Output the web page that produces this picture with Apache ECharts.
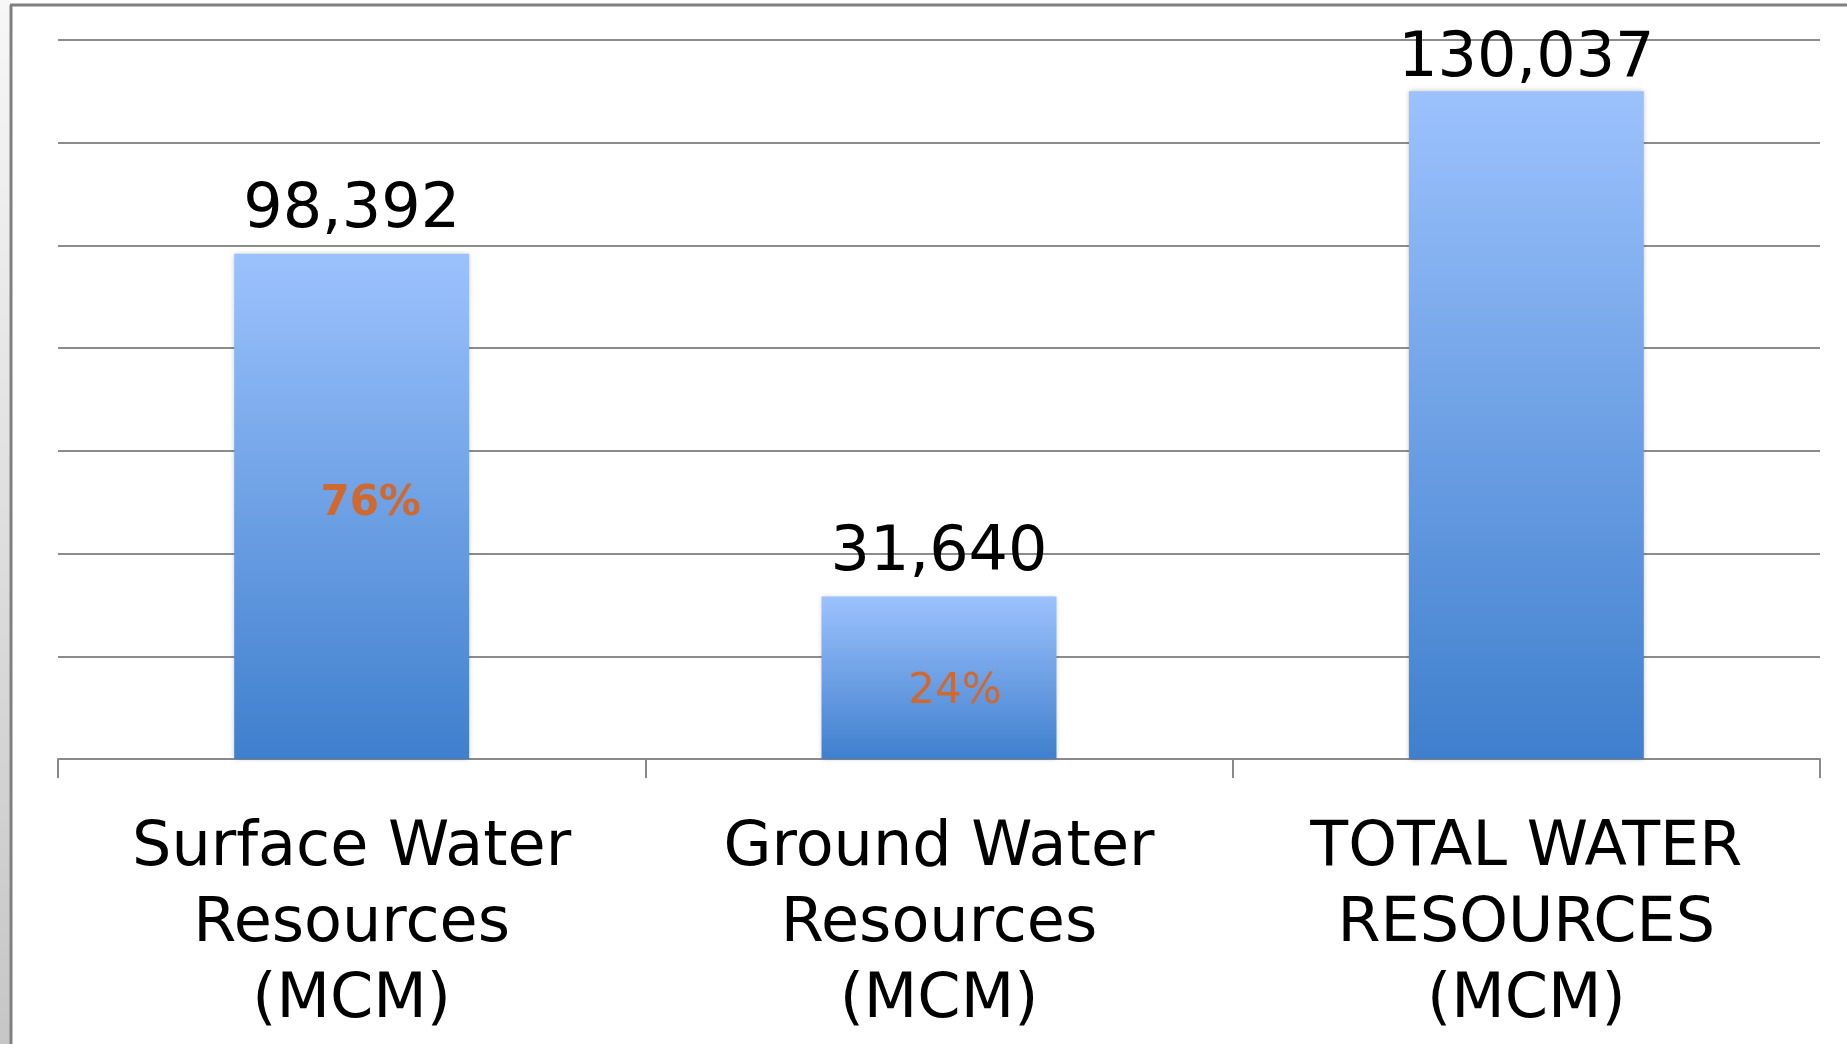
<!DOCTYPE html>
<html>
<head>
<meta charset="utf-8">
<script src="https://cdn.jsdelivr.net/npm/echarts@6/dist/echarts.min.js"></script>
<style>
html,body{margin:0;padding:0;background:#fff;}
#chart{width:1847px;height:1044px;}
</style>
</head>
<body>
<div id="chart"></div>
<script>
const categories = ['Surface Water\nResources\n(MCM)', 'Ground Water\nResources\n(MCM)', 'TOTAL WATER\nRESOURCES\n(MCM)'];
const values = [98392, 31640, 130037];
const shareLabels = ['76%', '24%', ''];
const shareWeights = ['bold', 'normal', 'normal'];
const yMin = 0, yMax = 140000, yStep = 20000;

const chart = echarts.init(document.getElementById('chart'));
const font = 'DejaVu Sans';
const valueDistances = [12, 12, 0];
chart.setOption({
  animation: false,
  backgroundColor: '#ffffff',
  graphic: [
    {type: 'rect', shape: {x: 0, y: 0, width: 10, height: 1044}, z: -10,
     style: {fill: new echarts.graphic.LinearGradient(0, 0, 0, 1, [{offset: 0, color: '#f7f7f7'}, {offset: 1, color: '#c6c6c6'}])}},
    {type: 'line', shape: {x1: 11, y1: 5, x2: 11, y2: 1044}, style: {stroke: '#808080', lineWidth: 3}, z: -5},
    {type: 'line', shape: {x1: 10, y1: 5, x2: 1847, y2: 5}, style: {stroke: '#808080', lineWidth: 3}, z: -5}
  ],
  grid: {left: 58, right: 27, top: 40, bottom: 285, containLabel: false},
  xAxis: {
    type: 'category',
    data: categories,
    axisLine: {lineStyle: {color: '#8a8a8a', width: 2}},
    axisTick: {show: true, length: 19, lineStyle: {color: '#8a8a8a', width: 2}},
    axisLabel: {color: '#000', fontFamily: font, fontSize: 62, lineHeight: 76, margin: 52, interval: 0}
  },
  yAxis: {
    type: 'value', min: yMin, max: yMax, interval: yStep,
    axisLabel: {show: false}, axisLine: {show: false}, axisTick: {show: false},
    splitLine: {lineStyle: {color: '#8c8c8c', width: 2}}
  },
  series: [
    {
      type: 'bar',
      barWidth: '40%',
      data: values.map((v, i) => ({value: v, label: {distance: valueDistances[i]}})),
      itemStyle: {
        color: new echarts.graphic.LinearGradient(0, 0, 0, 1, [
          {offset: 0, color: '#9cc2fd'},
          {offset: 1, color: '#3f7fcd'}
        ]),
        shadowColor: 'rgba(0,0,0,0.25)', shadowBlur: 5
      },
      label: {
        show: true, position: 'top', distance: 12,
        color: '#000', fontFamily: font, fontSize: 62,
        formatter: p => p.value.toLocaleString('en-US')
      }
    },
    {
      type: 'bar',
      barWidth: '40%',
      barGap: '-100%',
      silent: true,
      data: values.map((v, i) => ({
        value: v,
        label: {fontWeight: shareWeights[i], offset: i === 0 ? [19, -2] : [16, 14]}
      })),
      itemStyle: {color: 'rgba(0,0,0,0)'},
      label: {
        show: true, position: 'inside',
        color: '#d0692f', fontFamily: font, fontSize: 42,
        formatter: p => shareLabels[p.dataIndex]
      }
    }
  ]
});
</script>
</body>
</html>
